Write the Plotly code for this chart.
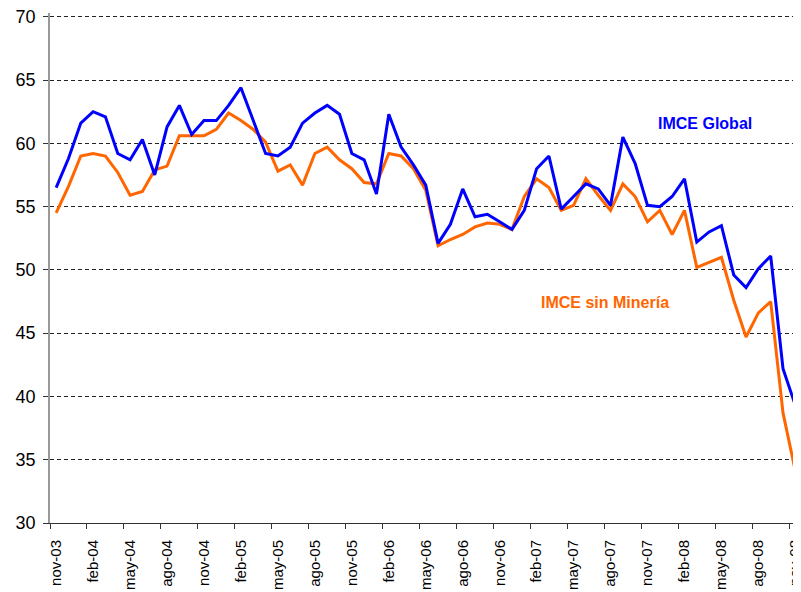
import plotly.graph_objects as go

# monthly labels nov-03 .. dic-08
month_abbr = ["ene", "feb", "mar", "abr", "may", "jun", "jul", "ago", "sep", "oct", "nov", "dic"]
months = []
for year in range(3, 9):
    for m, name in enumerate(month_abbr):
        if year == 3 and m < 10:
            continue
        months.append(f"{name}-{year:02d}")

imce_global = [
    56.5, 58.8, 61.6, 62.5, 62.1, 59.2, 58.7, 60.3, 57.5, 61.3,
    63.0, 60.7, 61.8, 61.8, 63.0, 64.4, 61.8, 59.2, 59.0, 59.7,
    61.6, 62.4, 63.0, 62.3, 59.2, 58.7, 56.0, 62.3, 59.7, 58.3,
    56.7, 52.1, 53.6, 56.4, 54.2, 54.4, 53.8, 53.2, 54.7, 58.0,
    59.0, 54.8, 55.8, 56.8, 56.4, 55.1, 60.5, 58.4, 55.1, 55.0,
    55.8, 57.2, 52.2, 53.0, 53.5, 49.6, 48.6, 50.1, 51.1, 42.2,
    39.3, 37.3,
]
imce_sin_mineria = [
    54.5, 56.6, 59.0, 59.2, 59.0, 57.7, 55.9, 56.2, 57.9, 58.2,
    60.6, 60.6, 60.6, 61.1, 62.4, 61.8, 61.1, 60.1, 57.8, 58.3,
    56.7, 59.2, 59.7, 58.7, 58.0, 56.9, 56.8, 59.2, 59.0, 58.0,
    56.3, 51.9, 52.4, 52.8, 53.4, 53.7, 53.6, 53.2, 55.8, 57.2,
    56.5, 54.7, 55.1, 57.2, 55.9, 54.7, 56.8, 55.8, 53.8, 54.7,
    52.8, 54.7, 50.2, 50.6, 51.0, 47.6, 44.7, 46.6, 47.5, 38.7,
    34.1, 33.2,
]
tick_labels = months[0:61:3]
y_ticks = [30, 35, 40, 45, 50, 55, 60, 65, 70]

BLUE = "#0000FF"
ORANGE = "#FF6600"
FONT = "Liberation Sans, Arial, sans-serif"

fig = go.Figure()
fig.add_trace(go.Scatter(
    x=months, y=imce_sin_mineria, mode="lines",
    line=dict(color=ORANGE, width=3), hoverinfo="skip",
))
fig.add_trace(go.Scatter(
    x=months, y=imce_global, mode="lines",
    line=dict(color=BLUE, width=3), hoverinfo="skip",
))

# series labels
fig.add_annotation(text="<b>IMCE Global</b>", xref="paper", yref="paper",
                   x=0.872, y=0.784, xanchor="center", yanchor="middle",
                   showarrow=False,
                   font=dict(family=FONT, size=16, color=BLUE))
fig.add_annotation(text="<b>IMCE sin Minería</b>", xref="paper", yref="paper",
                   x=0.739, y=0.433, xanchor="center", yanchor="middle",
                   showarrow=False,
                   font=dict(family=FONT, size=16, color=ORANGE))

# page body has an 8px margin, so the figure is sized to end at the window edge
fig.update_layout(
    width=793, height=584,
    margin=dict(l=42, r=0, t=5, b=69, autoexpand=False),
    showlegend=False,
    plot_bgcolor="white",
    paper_bgcolor="white",
    font=dict(family=FONT, color="black"),
    xaxis=dict(
        type="category",
        range=[-0.5, 60.46],
        tickmode="array",
        tickvals=tick_labels,
        ticktext=tick_labels,
        tickson="boundaries",
        tickangle=-90,
        ticks="outside", ticklen=5, tickcolor="#333333",
        showgrid=False,
        showline=True, linecolor="#333333", linewidth=1,
        tickfont=dict(size=15, family=FONT),
        ticklabelstandoff=10,
        ticklabeloverflow="allow",
        automargin=False,
    ),
    yaxis=dict(
        range=[30, 70.3],
        tickvals=y_ticks,
        showgrid=True, gridcolor="#222222", griddash="4px,3px", gridwidth=1,
        zeroline=False,
        showline=True, linecolor="#999999", linewidth=1.5,
        ticks="outside", ticklen=5, tickcolor="#333333",
        tickfont=dict(size=18, family=FONT),
        ticklabelstandoff=4,
        ticklabeloverflow="allow",
        automargin=False,
    ),
)

fig.write_html("out.html")
